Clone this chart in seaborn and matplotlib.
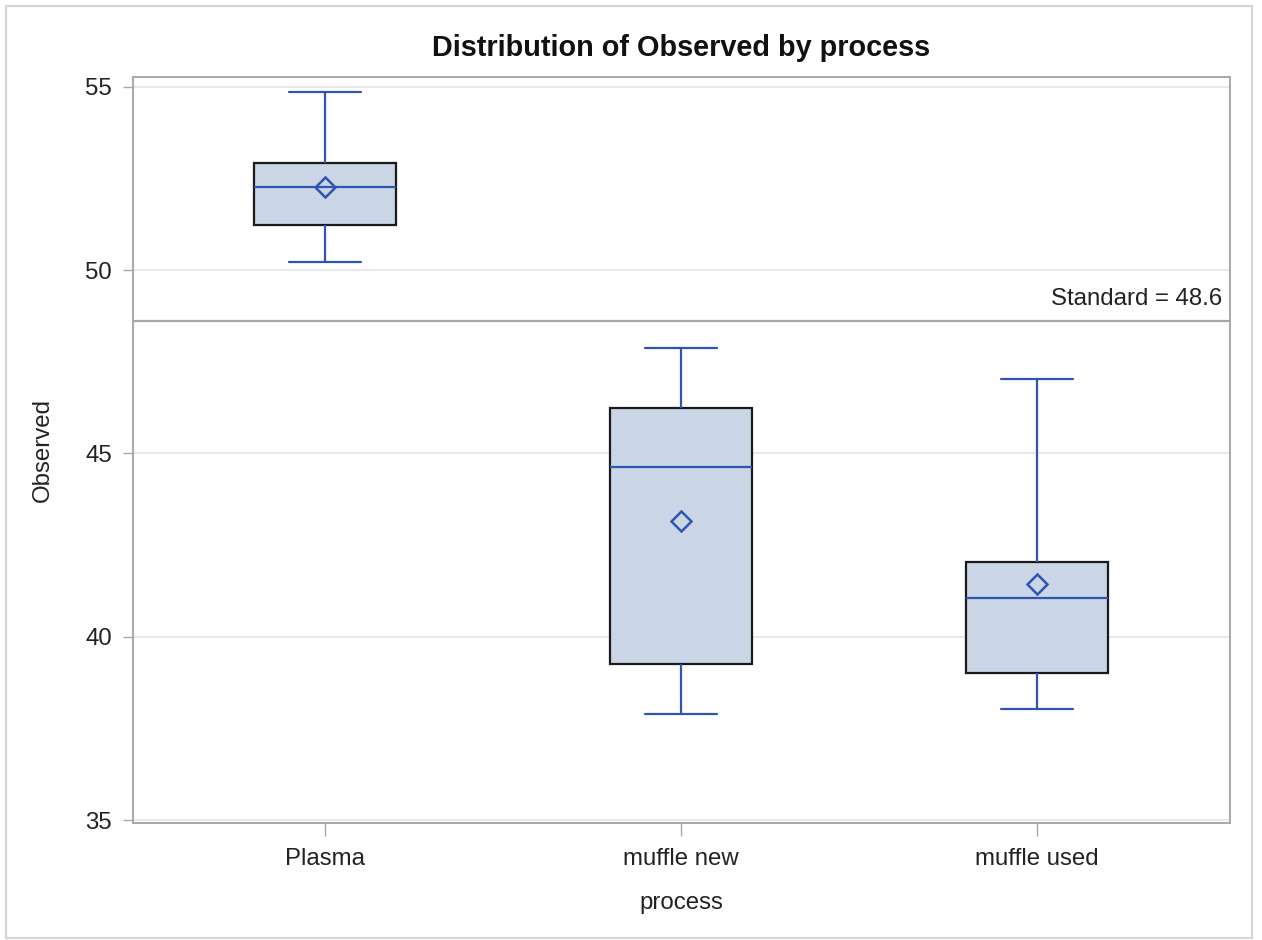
import numpy as np
import pandas as pd
import matplotlib
matplotlib.use("Agg")
import matplotlib.pyplot as plt
import seaborn as sns
from matplotlib.patches import Rectangle

# Five-number summaries (min, Q1, median, Q3, max)
processes = ["Plasma", "muffle new", "muffle used"]
plasma_vals = [50.22, 51.22, 52.28, 52.91, 54.86]
muffle_new_vals = [37.88, 39.27, 44.62, 46.25, 47.88]
muffle_used_vals = [38.04, 39.02, 41.06, 42.04, 47.04]
means = [52.28, 43.15, 41.44]
standard = 48.6
y_ticks = [35, 40, 45, 50, 55]

# long format for seaborn
df = pd.DataFrame({
    "process": np.repeat(processes, 5),
    "Observed": plasma_vals + muffle_new_vals + muffle_used_vals,
})
mean_df = pd.DataFrame({"process": processes, "Observed": means})

sns.set_style("white")
plt.rcParams["font.family"] = ["Liberation Sans", "DejaVu Sans"]

blue = "#2F55B0"
fill = "#CAD5E5"
grid_c = "#E4E4E4"
axis_c = "#A8A8A8"
text_c = "#222222"
fs = 17.3

fig = plt.figure(figsize=(12.62, 9.40), dpi=100)
ax = fig.add_axes([0.1054, 0.1245, 0.8692, 0.7936])

ax.set_axisbelow(True)
ax.grid(True, color=grid_c, linewidth=1.2)

sns.boxplot(data=df, x="process", y="Observed", order=processes,
            width=0.4, whis=(0, 100), showfliers=False,
            color=fill, linecolor=blue, linewidth=1.6, saturation=1,
            boxprops=dict(edgecolor="#1A1A1A", linewidth=1.6),
            ax=ax)

# mean markers
sns.pointplot(data=mean_df, x="process", y="Observed", order=processes,
              errorbar=None, linestyle="none", markers="D",
              color=blue, markerfacecolor="none", markeredgecolor=blue,
              markeredgewidth=1.8, markersize=10.5, ax=ax)

# reference line
ax.axhline(standard, color=axis_c, linewidth=1.6, zorder=4)
ax.text(2.52, standard + 0.3, f"Standard = {standard}", ha="right", va="bottom",
        fontsize=fs, color=text_c)

ax.set_xlim(-0.539, 2.542)
ax.set_ylim(34.92, 55.27)
ax.set_yticks(y_ticks)
ax.set_xticks(range(len(processes)))
ax.set_xticklabels(processes)

for s in ax.spines.values():
    s.set_color(axis_c)
    s.set_linewidth(1.4)

ax.tick_params(axis="both", direction="out", length=7, width=1, color=axis_c,
               labelsize=fs, labelcolor=text_c, pad=8, bottom=True, left=True)
ax.tick_params(axis="x", length=9, pad=9)
ax.set_xlabel("process", fontsize=fs, color=text_c, labelpad=16)
ax.set_ylabel("Observed", fontsize=fs, color=text_c, labelpad=23)
ax.set_title("Distribution of Observed by process", fontsize=20.8,
             fontweight="bold", color="#111111", pad=15)

# light border round the whole graph
fig.patches.append(Rectangle((0.0048, 0.0021), 0.9873, 0.9915, transform=fig.transFigure,
                             fill=False, edgecolor="#D4D4D4", linewidth=1.5))

fig.savefig("out.png", dpi=100)
